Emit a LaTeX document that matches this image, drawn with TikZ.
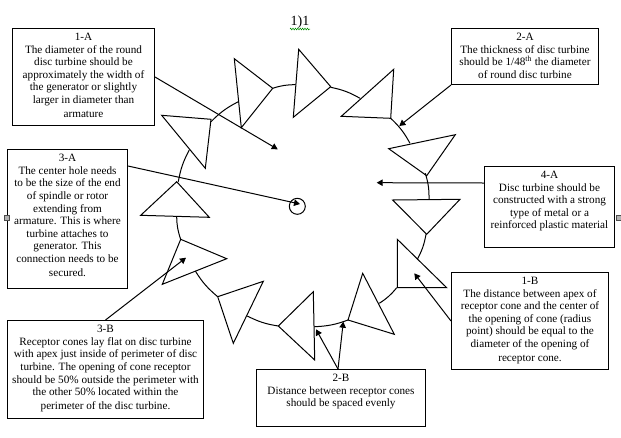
\documentclass[tikz,border=0pt]{standalone}
\usepackage{fontspec}
\setmainfont{Liberation Serif}
\usetikzlibrary{arrows.meta,decorations.pathmorphing}
\tikzset{
  x=1pt,y=-1pt,
  note/.style={draw=black,line width=1pt,fill=white,inner sep=0pt,anchor=north west},
  cone/.style={draw=black,line width=1pt,line join=miter},
  rim/.style={draw=black,line width=1pt,bend left=9},
  lead/.style={draw=black,line width=1pt,-{Triangle[length=6pt,width=6.5pt]}},
  handle/.style={draw=black!70,fill=black!30,line width=0.5pt,minimum size=5pt,inner sep=0pt},
  hub/.style={circle,draw=black,line width=1pt,minimum size=16pt,inner sep=0pt}
}
\newcommand{\notetext}[3]{\parbox[t][#2pt][t]{#1pt}{\fontsize{11.2}{12.65}\selectfont\centering\vspace*{4.5pt}#3}}
\begin{document}
\begin{tikzpicture}
\useasboundingbox (0,0) rectangle (621,437);
\fill[white] (0,0) rectangle (621,437);

% title
\node[inner sep=0pt,font=\fontsize{14}{16}\selectfont] (title) at (300,22) {1)1};
\draw[green!55!black,line width=0.5pt,decorate,decoration={zigzag,segment length=2.4pt,amplitude=0.9pt}] (290,29) -- (310,29);

% receptor cones
\draw[cone] (234.3,58.7) -- (272.7,88.3) -- (241.3,127.7) -- cycle;
\draw[cone] (298.7,49.3) -- (330.7,86.7) -- (293.3,117.3) -- cycle;
\draw[cone] (393.7,69.3) -- (390.7,118.3) -- (341.3,116.3) -- cycle;
\draw[cone] (455.3,134.7) -- (426.7,175.7) -- (388.7,148.7) -- cycle;
\draw[cone] (392.7,200) -- (460,199.3) -- (426.7,234.3) -- cycle;
\draw[cone] (397.3,239.3) -- (446.7,287.7) -- (397.3,287.7) -- cycle;
\draw[cone] (362.7,273.3) -- (394.3,334.3) -- (348,320) -- cycle;
\draw[cone] (313.3,291.7) -- (314.7,360) -- (278.3,326) -- cycle;
\draw[cone] (263.3,281.3) -- (233.3,343.3) -- (217.7,296.7) -- cycle;
\draw[cone] (180.7,239.3) -- (226.7,258.7) -- (162.3,284.3) -- cycle;
\draw[cone] (176.7,181.7) -- (209.3,217.3) -- (140.7,215.3) -- cycle;
\draw[cone] (161.7,115.3) -- (211,119.3) -- (205.3,168.3) -- cycle;

% perimeter of the disc between the cones
\draw[rim] (211,121.7) to (238.3,101.7);
\draw[rim] (272.7,88.3) to (295.7,84.7);
\draw[rim] (330.7,87.3) to (360,98.3);
\draw[rim] (390.7,118.3) to (410,143.3);
\draw[rim] (425.3,173.3) to (429,199.3);
\draw[rim] (426,234.3) to (417.3,259.3);
\draw[rim] (396.7,287.7) to (379.3,303.3);
\draw[rim] (348,320) to (314.3,326.7);
\draw[rim] (278.3,326) to (247.3,316);
\draw[rim] (217.7,296.7) to (195.3,271);
\draw[rim] (180.7,239.3) to (176.7,216.7);
\draw[rim] (178.3,181.7) to (189.3,150);

% centre hole
\node[hub] (hole) at (297.3,206.3) {};

% notes
\node[note] (a1) at (12,28) {\notetext{142}{97}{1-A\\The diameter of the round\\disc turbine should be\\approximately the width of\\the generator or slightly\\larger in diameter than\\[1pt]armature}};
\node[note] (a2) at (451,28) {\notetext{147}{56}{2-A\\The thickness of disc turbine\\should be 1/48\textsuperscript{th} the diameter\\of round disc turbine}};
\node[note] (a3) at (7,149) {\notetext{120}{139}{3-A\\The center hole needs\\to be the size of the end\\of spindle or rotor\\extending from\\armature.  This is where\\turbine attaches to\\generator.  This\\connection needs to be\\[1pt]secured.}};
\node[note] (a4) at (484,166) {\notetext{130}{81}{4-A\\Disc turbine should be\\constructed with a strong\\type of metal or a\\reinforced plastic material}};
\node[note] (b1) at (451,272) {\notetext{157}{97}{1-B\\The distance between apex of\\receptor cone and the center of\\the opening of cone (radius\\point) should be equal to the\\diameter of the opening of\\[1pt]receptor cone.}};
\node[note] (b2) at (256,369) {\notetext{169}{57}{2-B\\Distance between receptor cones\\should be spaced evenly}};
\node[note] (b3) at (7,320) {\notetext{196}{98}{3-B\\Receptor cones lay flat on disc turbine\\with apex just inside of perimeter of disc\\turbine.  The opening of cone receptor\\should be 50\% outside the perimeter with\\the other 50\% located within the\\[1pt]perimeter of the disc turbine.}};

% arrow targets
\coordinate (t1a) at (277.7,149.3);
\coordinate (t2a) at (399.3,126);
\coordinate (t3a) at (300,204);
\coordinate (t4a) at (376.7,182.7);
\coordinate (t1b) at (414.3,273.3);
\coordinate (t2ba) at (316,329.3);
\coordinate (t2bb) at (343.3,321.7);
\coordinate (t3b) at (186,257.7);

% leaders
\draw[lead] (a1.east) -- (t1a);
\draw[lead] (a2.south west) -- (t2a);
\draw[lead] ([yshift=-17pt]a3.north east) -- (t3a);
\draw[lead] ([yshift=-17pt]a4.north west) -- (t4a);
\draw[lead] (b1.west) -- (t1b);
\draw[lead] ([xshift=-3pt]b2.north) -- (t2ba);
\draw[lead] ([xshift=-3pt]b2.north) -- (t2bb);
\draw[lead] (b3.north) -- (t3b);

% selection handles
\node[handle] (h1) at (7,218) {};
\node[handle] (h2) at (619,218) {};
\end{tikzpicture}
\end{document}
